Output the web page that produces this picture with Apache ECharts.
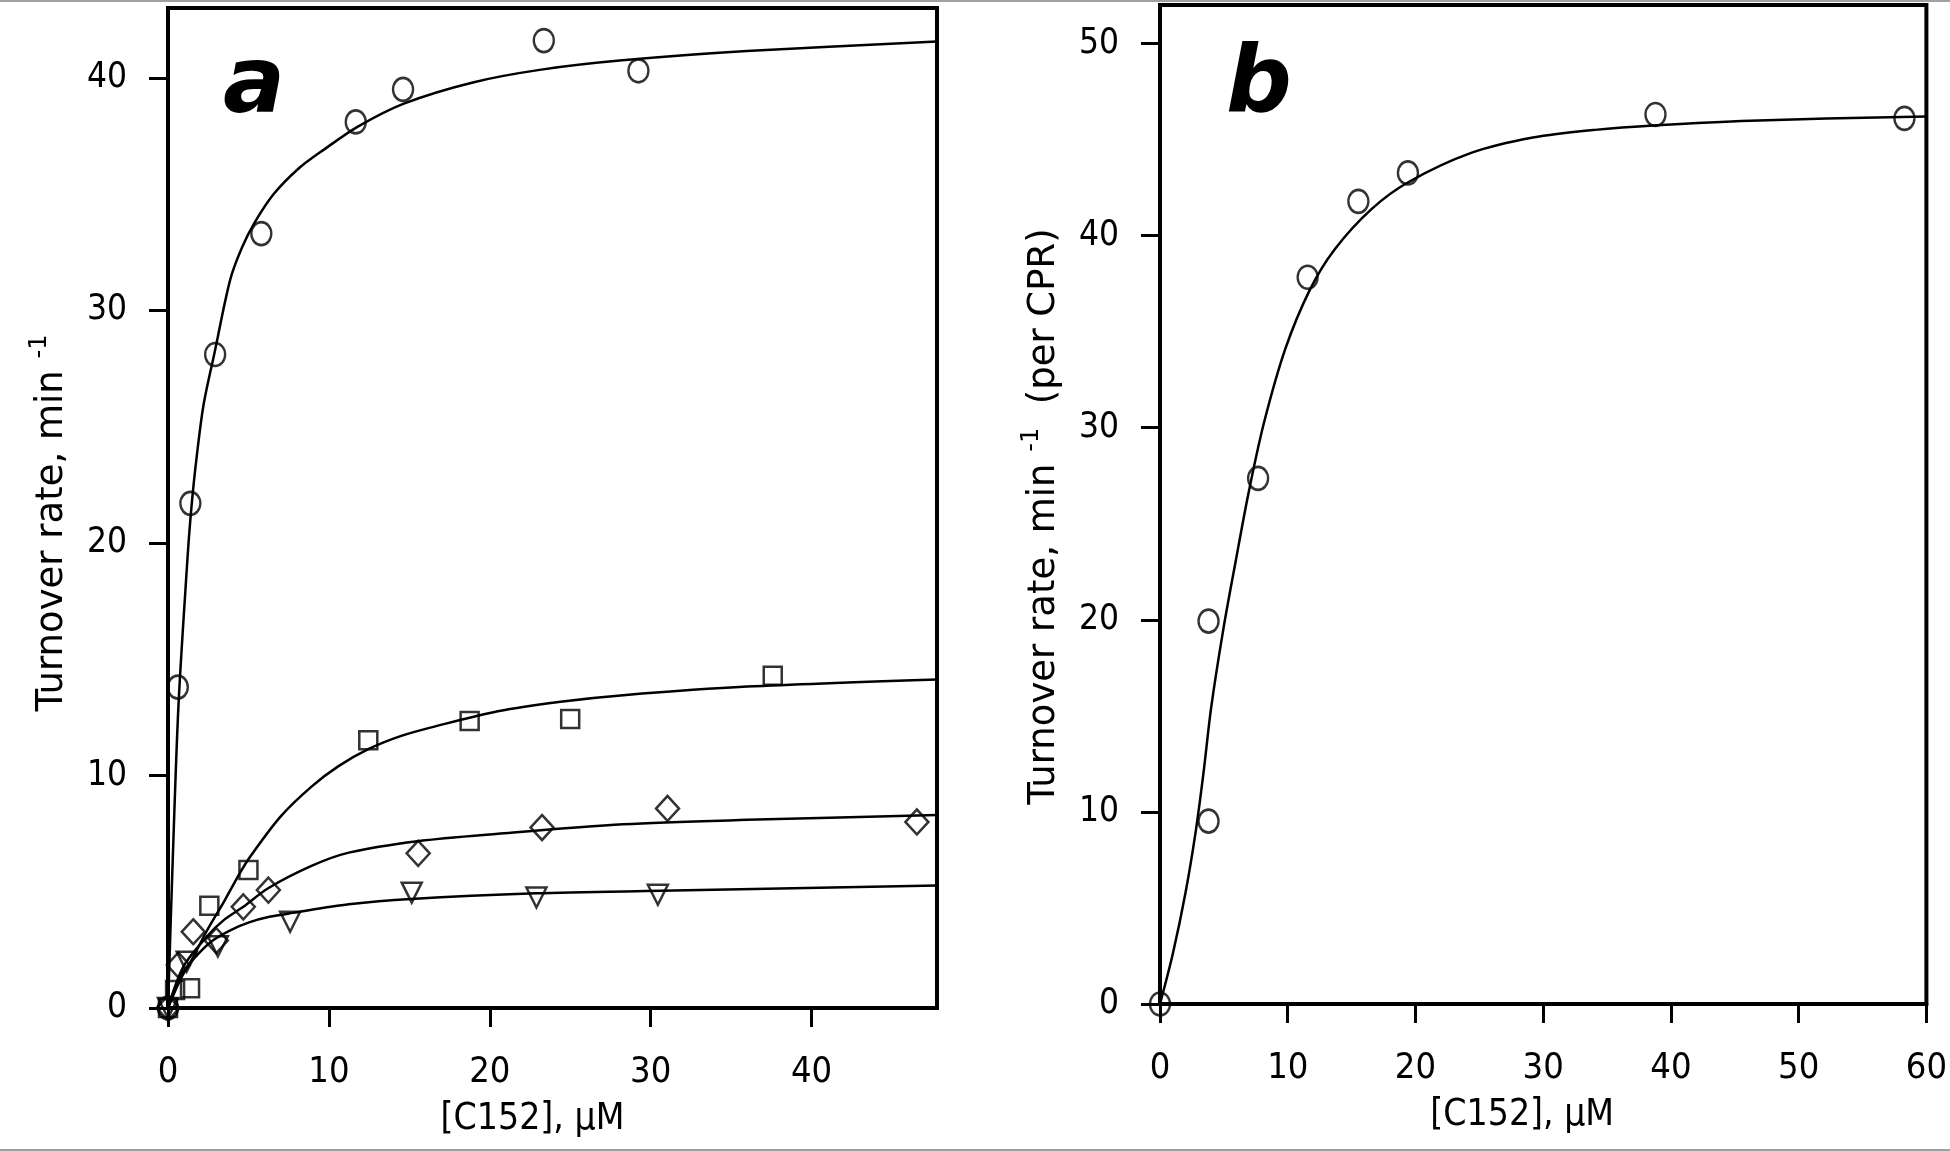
<!DOCTYPE html>
<html>
<head>
<meta charset="utf-8">
<script src="https://cdn.jsdelivr.net/npm/echarts@6/dist/echarts.min.js"></script>
<style>
  html, body { margin: 0; padding: 0; background: #fff; }
  #chart { width: 1950px; height: 1151px; }
</style>
</head>
<body>
<div id="chart"></div>
<script>
// ---- panel a : measured points ----
var circleA = [[0, 0], [0.61, 13.8], [1.39, 21.7], [2.93, 28.1], [5.8, 33.3], [11.67, 38.1], [14.61, 39.5], [23.36, 41.6], [29.24, 40.3]];
var squareA = [[0, 0], [0.44, 0.77], [1.37, 0.85], [2.57, 4.4], [5.0, 5.93], [12.45, 11.51], [18.75, 12.34], [25.0, 12.43], [37.59, 14.29]];
var diamondA = [[0, 0], [0.64, 1.85], [1.57, 3.28], [3.0, 2.9], [4.68, 4.35], [6.24, 5.07], [15.55, 6.65], [23.25, 7.76], [31.05, 8.58], [46.55, 8.0]];
var triangleA = [[0, 0], [1.16, 1.99], [3.1, 2.65], [7.59, 3.71], [15.15, 4.96], [22.9, 4.75], [30.45, 4.87]];

// ---- panel a : fitted curves ----
var circleFitA = [[0, 0], [0.3, 6.5], [0.65, 13.0], [1.16, 18.8], [1.39, 21.0], [1.7, 23.2], [2.2, 25.9], [2.9, 28.2], [3.86, 31.3], [4.6, 32.7], [5.41, 33.8], [6.57, 35.0], [8.12, 36.1], [9.67, 36.9], [11.8, 37.9], [14.7, 38.9], [18.95, 39.8], [23.2, 40.35], [28.24, 40.75], [35.98, 41.15], [47.8, 41.56]];
var squareFitA = [[0, 0], [0.75, 1.2], [1.5, 2.1], [2.4, 3.3], [3.5, 4.6], [4.3, 5.6], [5.04, 6.44], [6.98, 8.22], [8.92, 9.52], [10.6, 10.4], [12.48, 11.14], [14.5, 11.7], [16.67, 12.12], [20.5, 12.76], [24.4, 13.17], [28.3, 13.45], [36.0, 13.82], [47.8, 14.13]];
var diamondFitA = [[0, 0], [0.95, 1.77], [2.4, 3.06], [3.5, 3.8], [4.68, 4.35], [6.2, 5.14], [8.92, 6.11], [11.24, 6.68], [15.5, 7.17], [20.5, 7.49], [28.3, 7.9], [36.0, 8.09], [47.8, 8.3]];
var triangleFitA = [[0, 0], [0.7, 1.3], [1.58, 2.1], [2.72, 2.87], [3.9, 3.35], [5.04, 3.68], [6.3, 3.92], [7.76, 4.09], [11.24, 4.46], [15.1, 4.69], [22.86, 4.93], [30.6, 5.04], [47.8, 5.27]];

// ---- panel b ----
var circleB = [[0, 0], [3.8, 19.93], [3.8, 9.52], [7.68, 27.36], [11.56, 37.83], [15.53, 41.78], [19.41, 43.26], [38.79, 46.3], [58.28, 46.1]];
var circleFitB = [[0, 0], [1.0, 2.6], [2.0, 5.8], [2.8, 9.0], [3.4, 12.0], [4.0, 15.4], [4.97, 19.55], [5.94, 23.1], [6.9, 26.5], [8.12, 30.2], [9.81, 34.1], [11.75, 37.2], [13.7, 39.3], [16.6, 41.4], [19.5, 42.8], [24.36, 44.3], [29.2, 45.1], [34.05, 45.5], [38.9, 45.74], [46.2, 45.98], [60, 46.2]];

// ticks
var xTicksA = [0, 10, 20, 30, 40];
var yTicksA = [0, 10, 20, 30, 40];
var xTicksB = [0, 10, 20, 30, 40, 50, 60];
var yTicksB = [0, 10, 20, 30, 40, 50];

var numFont = '"Liberation Sans Narrow", "DejaVu Sans Condensed", "Roboto Condensed", "Liberation Sans", sans-serif';
var titleFont = '"DejaVu Sans", Verdana, sans-serif';

function xAxisCfg(grid, max, ticks, gapRight) {
  return {
    type: "value",
    gridIndex: grid,
    min: 0,
    max: max,
    splitLine: { show: false },
    axisLine: { show: true, onZero: false, lineStyle: { color: "#000", width: 4 } },
    axisTick: { show: true, length: 19, customValues: ticks, lineStyle: { color: "#000", width: 3 } },
    axisLabel: { customValues: ticks, color: "#000", fontFamily: numFont, fontSize: 36, margin: 47 },
    name: "[C152], μM",
    nameLocation: "middle",
    nameGap: 93,
    nameTextStyle: { color: "#000", fontFamily: numFont, fontSize: 37, padding: [0, gapRight, 0, 0] }
  };
}

function yAxisCfg(grid, max, ticks, name, padRight) {
  return {
    type: "value",
    gridIndex: grid,
    min: 0,
    max: max,
    splitLine: { show: false },
    axisLine: { show: true, onZero: false, lineStyle: { color: "#000", width: 4 } },
    axisTick: { show: true, length: 19, customValues: ticks, lineStyle: { color: "#000", width: 3 } },
    axisLabel: { customValues: ticks, color: "#000", fontFamily: numFont, fontSize: 35, margin: 41 },
    name: name,
    nameLocation: "middle",
    nameGap: 97,
    nameTextStyle: {
      color: "#000",
      fontFamily: titleFont,
      fontSize: 37,
      padding: [0, padRight, 0, 0],
      rich: {
        t: { fontFamily: titleFont, fontSize: 37, lineHeight: 43, verticalAlign: "bottom", color: "#000" },
        s: { fontFamily: titleFont, fontSize: 24, lineHeight: 24, verticalAlign: "top", color: "#000" }
      }
    }
  };
}

function marks(data, symbol, size, xi, rotate) {
  return {
    type: "scatter",
    xAxisIndex: xi,
    yAxisIndex: xi,
    data: data,
    symbol: symbol,
    symbolSize: size,
    symbolRotate: rotate || 0,
    clip: false,
    z: 3,
    itemStyle: { color: "rgba(0,0,0,0)", borderColor: "#000", borderWidth: 2.5 }
  };
}

function fit(data, xi) {
  return {
    type: "line",
    xAxisIndex: xi,
    yAxisIndex: xi,
    data: data,
    showSymbol: false,
    smooth: 0.3,
    clip: false,
    z: 2,
    lineStyle: { color: "#000", width: 2.5 }
  };
}

var chart = echarts.init(document.getElementById("chart"));
var option = {
  animation: false,
  backgroundColor: "#fff",
  grid: [
    { left: 168, top: 8, width: 769, height: 1000, show: true, borderColor: "#000", borderWidth: 4, containLabel: false },
    { left: 1160, top: 5, width: 770, height: 999, show: true, borderColor: "#000", borderWidth: 4, containLabel: false }
  ],
  xAxis: [xAxisCfg(0, 47.8, xTicksA, 40), xAxisCfg(1, 60, xTicksB, 42)],
  yAxis: [
    yAxisCfg(0, 43, yTicksA, "{t|Turnover rate, min} {s|-1}", 30),
    yAxisCfg(1, 52, yTicksB, "{t|Turnover rate, min} {s|-1}  {t|(per CPR)}", 24)
  ],
  graphic: [
    { type: "rect", left: 0, top: 0, shape: { width: 1950, height: 2 }, style: { fill: "#a0a0a0" } },
    { type: "rect", left: 0, top: 1149, shape: { width: 1950, height: 2 }, style: { fill: "#a0a0a0" } },
    { type: "text", left: 223, top: 42, style: { text: "a", fill: "#000", fontFamily: titleFont, fontSize: 92, fontStyle: "italic", fontWeight: "bold" } },
    { type: "text", left: 1226, top: 42, style: { text: "b", fill: "#000", fontFamily: titleFont, fontSize: 92, fontStyle: "italic", fontWeight: "bold" } }
  ],
  series: [
    fit(circleFitA, 0),
    fit(squareFitA, 0),
    fit(diamondFitA, 0),
    fit(triangleFitA, 0),
    marks(circleA, "circle", [20, 23], 0),
    marks(squareA, "rect", [18, 18], 0),
    marks(diamondA, "diamond", [23, 25], 0),
    marks(triangleA, "triangle", [20, 20], 0, 180),
    fit(circleFitB, 1),
    marks(circleB, "circle", [20, 23], 1)
  ]
};
chart.setOption(option);
</script>
</body>
</html>
